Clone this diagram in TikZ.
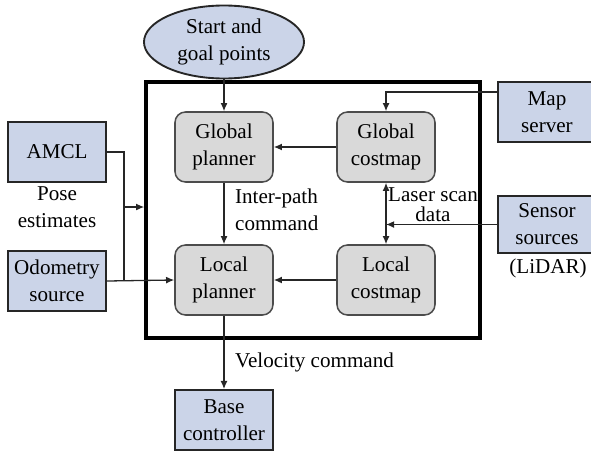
\documentclass[tikz,border=0pt]{standalone}
\usepackage{fontspec}
\setmainfont{Liberation Serif}
\usetikzlibrary{arrows.meta,shapes.geometric}

\definecolor{boxblue}{RGB}{203,212,232}
\definecolor{boxgray}{RGB}{217,217,217}

\begin{document}
\begin{tikzpicture}[x=0.03cm, y=-0.03cm,
    txt/.style={font=\fontsize{18}{23}\selectfont\rmfamily, align=center},
    extbox/.style={txt, draw=black!85, line width=1.6pt, fill=boxblue, minimum width=2.94cm, minimum height=1.8cm},
    coreblock/.style={txt, draw=black!70, line width=1.3pt, fill=boxgray, rounded corners=9pt, minimum width=2.94cm, minimum height=2.1cm},
    wire/.style={line width=1.1pt, black!85},
    arr/.style={wire, -{Latex[length=7pt,width=6pt]}},
]

\useasboundingbox (0,0) rectangle (591,450);

% ── Navigation frame ──
\node[draw, line width=3pt, minimum width=10.02cm, minimum height=7.68cm] (frame) at (313,210) {};

% ── Goal ──
\node[txt, ellipse, draw=black!85, line width=1.6pt, fill=boxblue, minimum width=4.8cm, minimum height=2.19cm, inner sep=0pt] (goal) at (224,42) {Start and\\goal points};

% ── Planners and costmaps ──
\node[coreblock] (gplan) at (224,147) {Global\\planner};
\node[coreblock] (gcost) at (386,147) {Global\\costmap};
\node[coreblock] (lplan) at (224,280) {Local\\planner};
\node[coreblock] (lcost) at (386,280) {Local\\costmap};

% ── Outside sources ──
\node[extbox] (amcl) at (57,152) {AMCL};
\node[extbox] (odom) at (57,281) {Odometry\\source};
\node[extbox] (base) at (224,420) {Base\\controller};
\node[extbox] (map) at (547,112) {Map\\server};
\node[extbox, minimum height=1.71cm] (sensor) at (547,224.5) {Sensor\\sources};
\node[txt] (lidar) at (548,268) {(LiDAR)};

% ── Labels ──
\node[txt] (pose) at (57,207) {Pose\\estimates};
\node[txt, align=left, anchor=west] (inter) at (231,210) {Inter-path\\command};
\node[font=\fontsize{18}{17}\selectfont\rmfamily, align=center, inner sep=0pt] (laser) at (433,205) {Laser scan\\data};
\node[txt, anchor=west] (velo) at (231,362) {Velocity command};

% ── Connectors ──
\draw[arr] (goal.south) -- (gplan.north);
\draw[arr] (gcost.west) -- (gplan.east);
\draw[arr] (lcost.west) -- (lplan.east);
\draw[arr] (gplan.south) -- (lplan.north);
\draw[arr] (lplan.south) -- (base.north);
\draw[arr] ([yshift=0.6cm]map.west) -| (gcost.north);
\draw[arr] (sensor.west) -- (sensor.west -| gcost.south);
\draw[wire, {Latex[length=7pt,width=6pt]}-{Latex[length=7pt,width=6pt]}] (gcost.south) -- (lcost.north);

% pose estimates join the odometry line
\coordinate (join) at (124,281);
\coordinate (tap) at (124,207);
\draw[wire] (amcl.east) -| (join);
\draw[arr] (tap) -- (tap -| frame.west);
\draw[arr] (odom.east) -- (lplan.west);

\end{tikzpicture}
\end{document}
